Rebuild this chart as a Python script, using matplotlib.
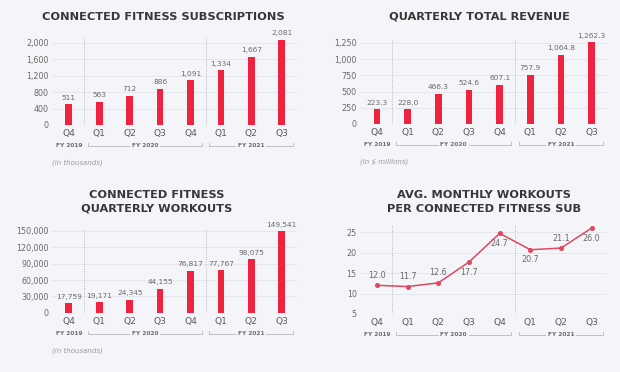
import matplotlib.pyplot as plt
from matplotlib.transforms import ScaledTranslation
from matplotlib.ticker import FuncFormatter

# data
quarters = ['Q4', 'Q1', 'Q2', 'Q3', 'Q4', 'Q1', 'Q2', 'Q3']
subscriptions = [511, 563, 712, 886, 1091, 1334, 1667, 2081]
revenue = [223.3, 228.0, 466.3, 524.6, 607.1, 757.9, 1064.8, 1262.3]
workouts = [17759, 19171, 24345, 44155, 76817, 77767, 98075, 149541]
avg_workouts = [12.0, 11.7, 12.6, 17.7, 24.7, 20.7, 21.1, 26.0]
fy_labels = ['FY 2019', 'FY 2020', 'FY 2021']
fy_first = [0, 1, 5]
fy_last = [0, 4, 7]

BG = '#f4f5f8'
RED = '#ef2340'
LINE_RED = '#e04860'
TXT = '#6a6a6a'
BRACKET = '#b8b8bc'

fig = plt.figure(figsize=(6.2, 3.72), dpi=100)
fig.patch.set_facecolor(BG)


def fmt_num(v, dec=0):
    return f'{v:,.{dec}f}'


def setup_axes(ax, yticks, ylim):
    ax.set_facecolor(BG)
    for s in ax.spines.values():
        s.set_visible(False)
    ax.set_xticks(list(range(len(quarters))))
    ax.set_xticklabels(quarters, fontsize=6.6, color='#5c5c5c')
    ax.set_xlim(-0.55, len(quarters) - 0.5)
    ax.set_ylim(*ylim)
    ax.set_yticks(yticks)
    ax.yaxis.set_major_formatter(FuncFormatter(lambda v, p: fmt_num(v)))
    ax.tick_params(axis='both', length=0)
    ax.tick_params(axis='y', labelsize=5.8, labelcolor=TXT, pad=2.5)
    ax.tick_params(axis='x', pad=3)
    ax.grid(axis='y', color='#e4e5ea', lw=0.6)
    ax.set_axisbelow(True)
    ax.axhline(ylim[0], color='#dcdde2', lw=0.7, zorder=1)
    # dotted fiscal year separators
    for sep in [0.5, 4.5]:
        ax.axvline(sep, color='#b4b4b8', lw=0.7, ls=(0, (1, 1.5)), zorder=1)

    # fiscal year brackets under the quarter labels (pixel offsets below the axis)
    h_px = ax.get_position().height * fig.get_figheight() * fig.dpi
    y_line = -21 / h_px
    y_tick = -18 / h_px
    xt = ax.get_xaxis_transform()
    for lab, a, b in zip(fy_labels, fy_first, fy_last):
        mid = (a + b) / 2
        box = None
        if b > a:
            x0, x1 = a - 0.38, b + 0.38
            ax.plot([x0, x0, x1, x1], [y_tick, y_line, y_line, y_tick], color=BRACKET,
                    lw=0.6, transform=xt, clip_on=False)
            box = dict(facecolor=BG, edgecolor='none', pad=1.2)
        ax.text(mid, y_line, lab, transform=xt, ha='center', va='center', fontsize=4.2,
                fontweight='bold', color='#6e6e6e', bbox=box)


def bar_panel(rect, values, yticks, ylim, dec=0):
    ax = fig.add_axes(rect)
    setup_axes(ax, yticks, ylim)
    x = range(len(values))
    ax.bar(x, values, width=0.22, color=RED, zorder=3)
    for xi, v in zip(x, values):
        ax.annotate(fmt_num(v, dec), (xi, v), xytext=(0, 2.5), textcoords='offset points',
                    ha='center', va='bottom', fontsize=5.3, color=TXT)
    return ax


def note(ax, txt):
    trans = ax.transAxes + ScaledTranslation(0, -0.38, fig.dpi_scale_trans)
    ax.text(0.0, 0, txt, transform=trans, ha='left', va='center', fontsize=5,
            style='italic', color='#9a9a9a')


def title(x, y, txt):
    fig.text(x, y, txt, ha='center', va='center', fontsize=8.2, fontweight='bold',
             color='#383838', linespacing=1.5)


ax1 = bar_panel([0.084, 0.664, 0.395, 0.237], subscriptions,
                [0, 400, 800, 1200, 1600, 2000], (0, 2150))
note(ax1, '(in thousands)')
title(0.263, 0.955, 'CONNECTED FITNESS SUBSCRIPTIONS')

ax2 = bar_panel([0.581, 0.667, 0.398, 0.228], revenue,
                [0, 250, 500, 750, 1000, 1250], (0, 1310), dec=1)
note(ax2, '(in \\$ millions)')
title(0.773, 0.955, 'QUARTERLY TOTAL REVENUE')

ax3 = bar_panel([0.084, 0.159, 0.395, 0.228], workouts,
                [0, 30000, 60000, 90000, 120000, 150000], (0, 155000))
note(ax3, '(in thousands)')
title(0.253, 0.457, 'CONNECTED FITNESS\nQUARTERLY WORKOUTS')

# line panel
ax4 = fig.add_axes([0.581, 0.156, 0.398, 0.242])
setup_axes(ax4, [5, 10, 15, 20, 25], (5, 27))
x = range(len(avg_workouts))
ax4.plot(x, avg_workouts, color=LINE_RED, lw=1.1, marker='o', ms=2.6, zorder=3)
above = [True, True, True, False, False, False, True, False]
for xi, v, up in zip(x, avg_workouts, above):
    ax4.annotate(f'{v:.1f}', (xi, v), xytext=(0, 4 if up else -4), textcoords='offset points',
                 ha='center', va='bottom' if up else 'top', fontsize=5.8, color=TXT)
title(0.781, 0.457, 'AVG. MONTHLY WORKOUTS\nPER CONNECTED FITNESS SUB')

fig.savefig('out.png', dpi=100, facecolor=BG)
